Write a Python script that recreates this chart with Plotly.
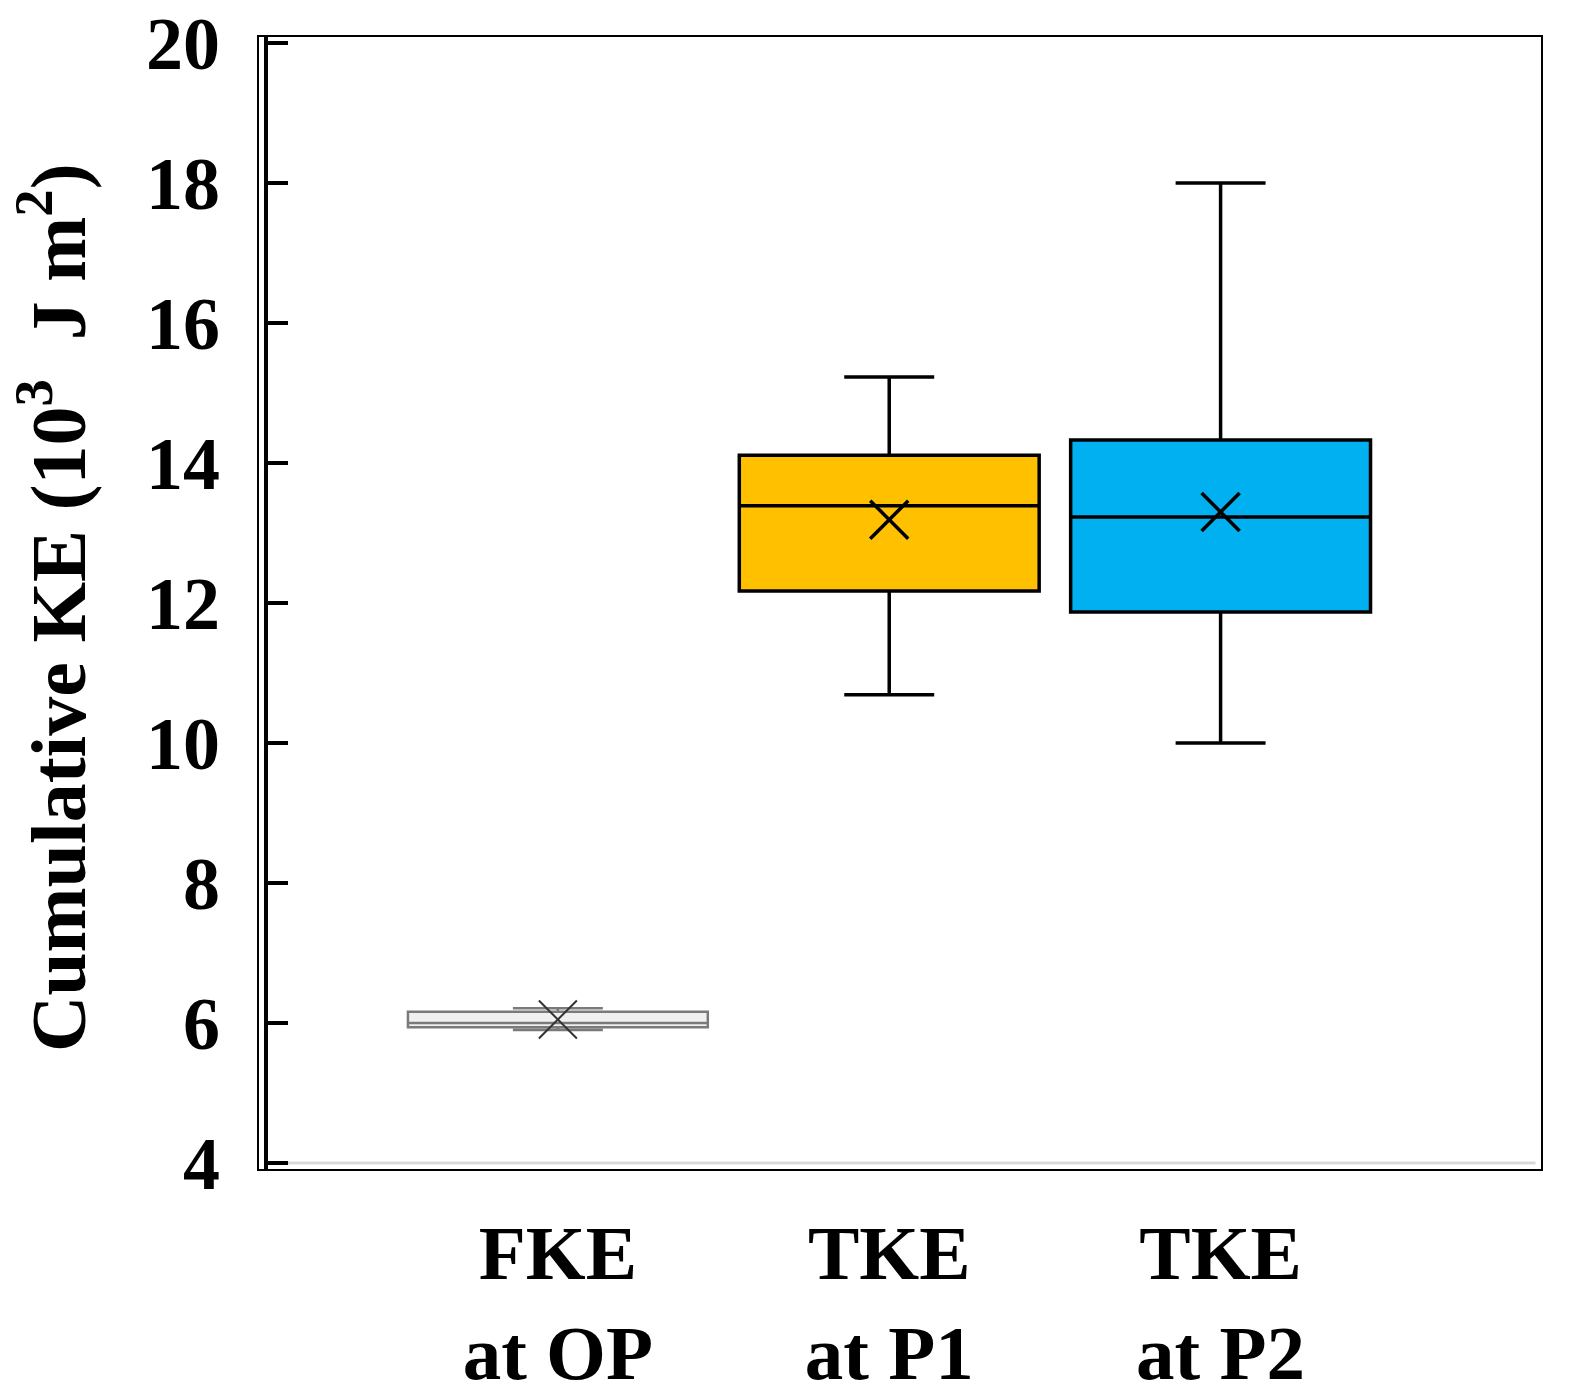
import plotly.graph_objects as go

# box statistics (10^3 J m^2)
categories = ["FKE<br>at OP", "TKE<br>at P1", "TKE<br>at P2"]
lower = [5.90, 10.69, 10.0]
q1 = [5.94, 12.17, 11.87]
median = [6.00, 13.39, 13.23]
q3 = [6.16, 14.11, 14.33]
upper = [6.21, 15.23, 18.0]
means = [6.05, 13.19, 13.30]

fills = ["#f0f0f0", "#FFC000", "#00B0F0"]
edges = ["#7a7a7a", "#000000", "#000000"]
edge_w = [2.5, 3.5, 3.5]
ytick_vals = list(range(4, 21, 2))

FONT = "Liberation Serif, Times New Roman, serif"

traces = []
for i, cat in enumerate(categories):
    traces.append(go.Box(
        x=[cat], q1=[q1[i]], median=[median[i]], q3=[q3[i]],
        lowerfence=[lower[i]], upperfence=[upper[i]],
        fillcolor=fills[i], line=dict(color=edges[i], width=edge_w[i]),
        width=0.905, whiskerwidth=0.3, boxpoints=False,
        showlegend=False, hoverinfo="skip",
    ))

traces.append(go.Scatter(
    x=categories, y=means, mode="markers", showlegend=False,
    marker=dict(symbol="x-thin", size=38, color="black",
                line=dict(width=[2, 3.5, 3.5], color=["#333333", "black", "black"])),
))

# the page body adds an 8px margin, so the figure is sized to fit beside it
fig = go.Figure(data=traces)
fig.update_layout(
    width=1562, height=1390,
    margin=dict(l=250, r=28, t=28, b=228),
    paper_bgcolor="white", plot_bgcolor="white",
    boxmode="overlay",
    font=dict(family=FONT, color="black", weight="bold"),
    xaxis=dict(
        type="category", range=[-0.905, 2.97], automargin=False,
        showline=False, showgrid=False, ticks="", zeroline=False,
        tickfont=dict(size=77, family=FONT, weight="bold"),
        ticklabelstandoff=31, ticklabeloverflow="allow",
    ),
    yaxis=dict(
        range=[3.9, 20.1], tickvals=ytick_vals, automargin=False,
        anchor="free", position=0.006,
        showline=True, linewidth=4, linecolor="black",
        ticks="inside", ticklen=20, tickwidth=4, tickcolor="black",
        showgrid=False, zeroline=False,
        tickfont=dict(size=74, family=FONT, weight="bold"),
        ticklabelstandoff=29, ticklabeloverflow="allow",
    ),
    shapes=[
        dict(type="rect", xref="paper", yref="paper", x0=0, x1=1, y0=0, y1=1,
             line=dict(color="black", width=2)),
        dict(type="line", xref="paper", yref="y", x0=0.008, x1=0.995, y0=4, y1=4,
             line=dict(color="#d9d9d9", width=3), layer="below"),
    ],
    annotations=[
        dict(text="Cumulative KE (10<sup>3</sup>  J m<sup>2</sup>)",
             xref="paper", yref="paper", x=-0.16, y=0.496,
             xanchor="center", yanchor="middle", textangle=-90, showarrow=False,
             font=dict(size=78, family=FONT, weight="bold")),
    ],
)

fig.write_html("out.html")
